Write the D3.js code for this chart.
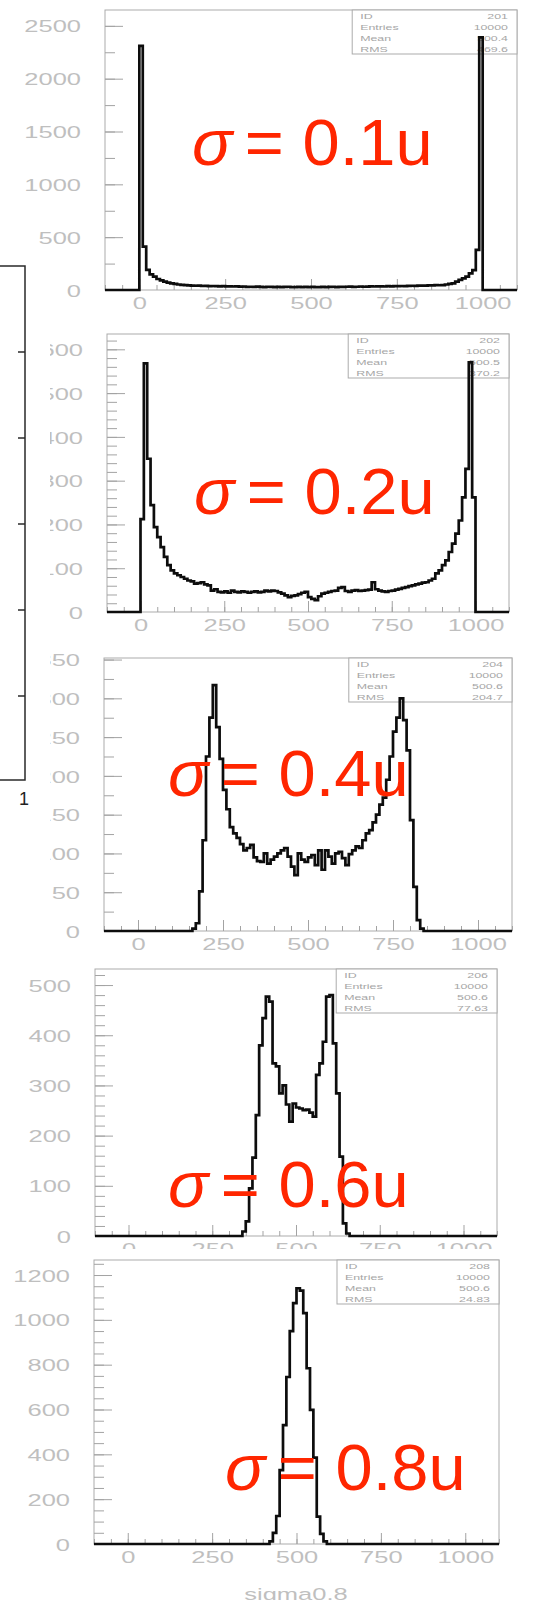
<!DOCTYPE html>
<html>
<head>
<meta charset="utf-8">
<script src="https://cdn.jsdelivr.net/npm/d3@7/dist/d3.min.js"></script>
<style>
  html, body { margin: 0; padding: 0; background: #fff; }
  svg { display: block; }
</style>
</head>
<body>
<svg id="chart" width="542" height="1600"></svg>
<script>
// ---------- data ----------
const histIds   = ["201", "202", "204", "206", "208"];
const sigmaText = ["0.1u", "0.2u", "0.4u", "0.6u", "0.8u"];
const entries   = ["10000", "10000", "10000", "10000", "10000"];
const means     = ["500.4", "500.5", "500.6", "500.6", "500.6"];
const rmsValues = ["469.6", "370.2", "204.7", "77.63", "24.83"];

const xTickValues = [0, 250, 500, 750, 1000];
const xDomain     = [-100, 1100];
const binWidth    = 10;          // 100 bins covering 0..1000

const yTops       = [2650, 635, 352, 532, 1267];
const yMajorSteps = [500, 100, 50, 100, 200];
const yMinorSteps = [250, 20, 25, 20, 50];

const counts201 = [
  2310, 410, 190, 148, 126, 104, 92, 79, 70, 63, 58, 52, 48, 46, 44, 42,
  40, 41, 38, 39, 37, 38, 36, 35, 37, 34, 35, 33, 34, 32, 33,
  30, 31, 29, 32, 30, 28, 31, 29, 27, 30, 28, 29, 31, 28, 27, 29, 28, 30, 27,
  29, 28, 27, 30, 28, 29, 31, 28, 30, 29, 31, 32, 30, 31, 33, 31, 32, 34, 33,
  34, 35, 33, 36, 35, 37, 36, 38, 37, 39, 40, 39, 41, 42, 41, 43, 44, 46, 45,
  47, 52, 58, 63, 80, 95, 110, 126, 158, 189, 379, 2390
];
const counts202 = [
  212, 568, 350, 244, 194, 171, 148, 126, 107, 95, 88, 84, 80, 76, 72, 70,
  65, 66, 68, 63, 61, 49, 52, 46, 45, 47, 44, 49, 46, 45, 47, 46, 44, 46, 47,
  45, 46, 49, 47, 49, 48, 45, 42, 38, 34, 37, 38, 41, 44, 46, 34, 30, 27, 36,
  42, 44, 46, 48, 49, 55, 57, 48, 46, 49, 50, 48, 49, 50, 51, 68, 52, 49, 47,
  46, 48, 49, 51, 53, 55, 57, 59, 61, 63, 65, 67, 68, 72, 76, 88, 95, 107, 118,
  137, 156, 179, 209, 262, 327, 570, 262
];
const counts204 = [
  0, 0, 0, 0, 0, 0, 0, 0, 0, 0, 0, 0, 0, 0, 0, 0,
  3, 10, 51, 117, 225, 275, 317, 263, 222, 182, 157, 134, 126, 120, 112, 104,
  107, 111, 95, 90, 89, 100, 87, 92, 96, 100, 104, 107, 96, 83, 72, 100, 92,
  89, 95, 98, 85, 104, 79, 104, 96, 87, 100, 102, 94, 85, 99, 104, 109, 107,
  117, 126, 130, 140, 150, 163, 172, 195, 225, 257, 275, 300, 272, 233, 143,
  57, 14, 3,
  0, 0, 0, 0, 0, 0, 0, 0, 0, 0, 0, 0, 0, 0, 0, 0
];
const counts206 = [
  0, 0, 0, 0, 0, 0, 0, 0, 0, 0, 0, 0, 0, 0, 0, 0, 0, 0, 0, 0,
  0, 0, 0, 0, 0, 0, 0, 0, 0, 0, 0, 0, 0, 0,
  9, 29, 95, 156, 241, 380, 434, 477, 467, 344, 338, 284, 300, 262, 228, 264,
  256, 254, 251, 252, 246, 238, 321, 344, 387, 477, 480, 384, 284, 158, 25, 5,
  0, 0, 0, 0, 0, 0, 0, 0, 0, 0, 0, 0, 0, 0, 0, 0, 0,
  0, 0, 0, 0, 0, 0, 0, 0, 0, 0, 0, 0, 0, 0, 0, 0, 0
];
const counts208 = [
  0, 0, 0, 0, 0, 0, 0, 0, 0, 0, 0, 0, 0, 0, 0, 0, 0, 0, 0, 0, 0,
  0, 0, 0, 0, 0, 0, 0, 0, 0, 0, 0, 0, 0, 0, 0, 0, 0, 0, 0, 0, 0,
  12, 50, 125, 330, 530, 745, 950, 1075, 1141, 1130, 1030, 784, 598, 385, 122, 45, 12,
  0, 0, 0, 0, 0, 0, 0, 0, 0, 0, 0, 0, 0, 0, 0, 0, 0, 0, 0, 0, 0,
  0, 0, 0, 0, 0, 0, 0, 0, 0, 0, 0, 0, 0, 0, 0, 0, 0, 0, 0, 0
];
const allCounts = [counts201, counts202, counts204, counts206, counts208];

// ---------- layout ----------
const frames = [
  { x0: 105, y0: 10,   x1: 517, y1: 290,  clipX: null, clipY: null },
  { x0: 107, y0: 334,  x1: 509, y1: 612,  clipX: 50,   clipY: null },
  { x0: 104, y0: 658,  x1: 512, y1: 931,  clipX: 50,   clipY: null },
  { x0: 95,  y0: 969,  x1: 497, y1: 1236, clipX: null, clipY: 1249 },
  { x0: 94,  y0: 1260, x1: 499, y1: 1544, clipX: null, clipY: null }
];
const sigmaPos = [[192, 165], [194, 514], [168, 796], [168, 1207], [225, 1490]];

const frameColor = "#ababab";
const tickColor  = "#a3a3a3";
const labelColor = "#bfbfbf";
const statColor  = "#a6a6a6";
const labelFont  = "'Liberation Sans', Arial, sans-serif";
const stretch    = "scale(1.5,1)";

const svg = d3.select("#chart");
const defs = svg.append("defs");

frames.forEach((f, i) => {
  const counts = allCounts[i];
  const x = d3.scaleLinear().domain(xDomain).range([f.x0, f.x1]);
  const y = d3.scaleLinear().domain([0, yTops[i]]).range([f.y1, f.y0]);
  const g = svg.append("g").attr("class", "panel-" + histIds[i]);

  // frame
  g.append("rect")
    .attr("x", f.x0).attr("y", f.y0)
    .attr("width", f.x1 - f.x0).attr("height", f.y1 - f.y0)
    .attr("fill", "none").attr("stroke", frameColor).attr("stroke-width", 1);

  // y axis: minor ticks, then major ticks with labels (ticks point inward)
  const yMinor = d3.axisRight(y)
    .tickValues(d3.range(0, yTops[i] + 1e-9, yMinorSteps[i]))
    .tickSize(10).tickFormat(() => "");
  g.append("g").attr("transform", `translate(${f.x0},0)`).call(yMinor)
    .call(a => a.select(".domain").remove())
    .call(a => a.selectAll("line").attr("stroke", tickColor));

  // wrapper groups carry the clip paths in page coordinates
  const yWrap = g.append("g");
  if (f.clipX !== null) {
    defs.append("clipPath").attr("id", "yclip" + i)
      .append("rect").attr("x", f.clipX).attr("y", f.y0 - 20)
      .attr("width", 600).attr("height", f.y1 - f.y0 + 40);
    yWrap.attr("clip-path", `url(#yclip${i})`);
  }
  const yMajor = d3.axisRight(y)
    .tickValues(d3.range(0, yTops[i] + 1e-9, yMajorSteps[i]))
    .tickSize(18).tickFormat(d3.format("d"));
  const yg = yWrap.append("g").attr("transform", `translate(${f.x0},0)`).call(yMajor);
  yg.select(".domain").remove();
  yg.selectAll("line").attr("stroke", tickColor);
  yg.selectAll("text")
    .attr("x", null).attr("dy", "0.36em")
    .attr("text-anchor", "end")
    .attr("transform", `translate(-24,0) ${stretch}`)
    .attr("fill", labelColor)
    .style("font-family", labelFont).style("font-size", "17px");

  // x axis: minor ticks every 50, major ticks with labels
  const xMinor = d3.axisTop(x)
    .tickValues(d3.range(xDomain[0], xDomain[1] + 1e-9, 50))
    .tickSize(5).tickFormat(() => "");
  g.append("g").attr("transform", `translate(0,${f.y1})`).call(xMinor)
    .call(a => a.select(".domain").remove())
    .call(a => a.selectAll("line").attr("stroke", tickColor));

  const xWrap = g.append("g");
  if (f.clipY !== null) {
    defs.append("clipPath").attr("id", "xclip" + i)
      .append("rect").attr("x", 0).attr("y", f.y1 - 20)
      .attr("width", 542).attr("height", f.clipY - f.y1 + 20);
    xWrap.attr("clip-path", `url(#xclip${i})`);
  }
  const xMajor = d3.axisTop(x).tickValues(xTickValues).tickSize(11).tickFormat(d3.format("d"));
  const xg = xWrap.append("g").attr("transform", `translate(0,${f.y1})`).call(xMajor);
  xg.select(".domain").remove();
  xg.selectAll("line").attr("stroke", tickColor);
  xg.selectAll("text")
    .attr("y", null).attr("dy", null)
    .attr("text-anchor", "middle")
    .attr("transform", `translate(0,19) ${stretch}`)
    .attr("fill", labelColor)
    .style("font-family", labelFont).style("font-size", "17px");

  // statistics box in the upper right corner
  const bw = (f.x1 - f.x0) * 0.4, bh = 44;
  const bx = f.x1 - bw, by = f.y0;
  g.append("rect").attr("x", bx).attr("y", by).attr("width", bw).attr("height", bh)
    .attr("fill", "#fff").attr("stroke", frameColor).attr("stroke-width", 1);
  const statRows = [["ID", histIds[i]], ["Entries", entries[i]], ["Mean", means[i]], ["RMS", rmsValues[i]]];
  statRows.forEach((r, k) => {
    const ty = by + 8.5 + k * 11;
    g.append("text").attr("transform", `translate(${bx + 8},${ty}) scale(1.65,1)`)
      .attr("fill", statColor).style("font-family", labelFont).style("font-size", "7.5px")
      .text(r[0]);
    g.append("text").attr("transform", `translate(${f.x1 - 9},${ty}) scale(1.65,1)`)
      .attr("text-anchor", "end")
      .attr("fill", statColor).style("font-family", labelFont).style("font-size", "7.5px")
      .text(r[1]);
  });

  // histogram outline (zero outside 0..1000)
  const pts = [{ v: xDomain[0], c: 0 }];
  counts.forEach((c, b) => pts.push({ v: b * binWidth, c: c }));
  pts.push({ v: counts.length * binWidth, c: 0 });
  pts.push({ v: xDomain[1], c: 0 });
  const line = d3.line().x(d => x(d.v)).y(d => y(d.c)).curve(d3.curveStepAfter);
  g.append("path").attr("d", line(pts))
    .attr("fill", "none").attr("stroke", "#0d0d0d")
    .attr("stroke-width", 2.7).attr("stroke-linejoin", "miter");
});

// axis title under the last histogram (runs off the bottom edge)
svg.append("text")
  .attr("transform", `translate(296,1600) ${stretch}`)
  .attr("text-anchor", "middle").attr("fill", labelColor)
  .style("font-family", labelFont).style("font-size", "17px")
  .text("sigma0.8");

// edge of the neighbouring plot on the left
const edge = svg.append("g");
edge.append("path").attr("d", "M0,266H25V780H0")
  .attr("fill", "none").attr("stroke", "#2a2a2a").attr("stroke-width", 1.5);
const edgeY = d3.scaleLinear().domain([0, 6]).range([266, 782]);
edge.selectAll("line.et").data(d3.range(1, 6)).join("line")
  .attr("class", "et")
  .attr("x1", 18).attr("x2", 25)
  .attr("y1", d => edgeY(d)).attr("y2", d => edgeY(d))
  .attr("stroke", "#2a2a2a").attr("stroke-width", 1.5);
edge.append("text").attr("x", 24).attr("y", 805).attr("text-anchor", "middle")
  .attr("fill", "#222").style("font-family", labelFont).style("font-size", "18px")
  .text("1");

// red sigma annotations, widened slightly to a 240px span
sigmaPos.forEach((p, i) => {
  const t = svg.append("text")
    .attr("transform", `translate(${p[0]},${p[1]}) scale(1.045,1)`)
    .attr("fill", "#ff2600")
    .style("font-family", labelFont).style("font-size", "64px");
  t.append("tspan").attr("font-style", "italic").text("σ");
  t.append("tspan").attr("dx", 12).text("=");
  t.append("tspan").text(" " + sigmaText[i]);
});
</script>
</body>
</html>
